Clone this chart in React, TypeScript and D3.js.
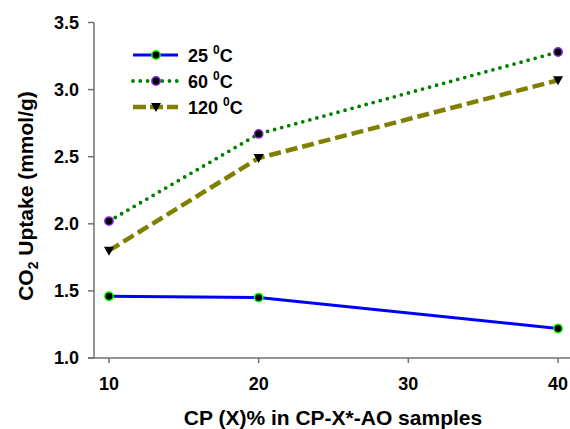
import React from "react";
import * as d3 from "d3";

const xValues = [10, 20, 40];
const uptake25 = [1.46, 1.45, 1.22];
const uptake60 = [2.02, 2.67, 3.28];
const uptake120 = [1.80, 2.49, 3.07];
const xTicks = [10, 20, 30, 40];
const yTicks = [1.0, 1.5, 2.0, 2.5, 3.0, 3.5];
const seriesLabels = ["25 ", "60 ", "120 "];

const W = 570;
const H = 429;

export default function App() {
  const x = d3.scaleLinear().domain([9, 40.8]).range([94, 570]);
  const y = d3.scaleLinear().domain([1, 3.5]).range([358, 22.5]);
  const line = d3
    .line<[number, number]>()
    .x((d) => x(d[0]))
    .y((d) => y(d[1]));
  const pts = (arr: number[]) => xValues.map((v, i) => [v, arr[i]] as [number, number]);

  const axisColor = "#707070";
  const font = "'Liberation Sans', Arial, sans-serif";

  const series = [
    { data: uptake25, color: "#0000ff", width: 3, dash: undefined as string | undefined, cap: "butt", marker: "circle", mstroke: "#00ff00" },
    { data: uptake60, color: "#008000", width: 3.8, dash: "0 7.3", cap: "round", marker: "circle", mstroke: "#8a2be2" },
    { data: uptake120, color: "#808000", width: 4.5, dash: "12 5", cap: "butt", marker: "tri", mstroke: "#000" },
  ];

  const marker = (s: typeof series[number], cx: number, cy: number, key: string) =>
    s.marker === "circle" ? (
      <circle key={key} cx={cx} cy={cy} r={4.2} fill="#000" stroke={s.mstroke} strokeWidth={1.5} />
    ) : (
      <path key={key} d={`M${cx - 5},${cy - 4} L${cx + 5},${cy - 4} L${cx},${cy + 5} Z`} fill="#000" />
    );

  const legendY = [55, 81, 107];

  return (
    <svg width={W} height={H} style={{ position: "absolute", left: 0, top: 0, background: "#fff" }} fontFamily={font}>
      {/* axes */}
      <line x1={94} x2={94} y1={22.5} y2={358} stroke={axisColor} strokeWidth={1.5} />
      <line x1={88} x2={570} y1={358} y2={358} stroke={axisColor} strokeWidth={1.5} />
      {yTicks.map((t) => (
        <g key={"y" + t}>
          <line x1={88} x2={94} y1={y(t)} y2={y(t)} stroke={axisColor} strokeWidth={1.5} />
          <text x={79} y={y(t)} dy="0.35em" textAnchor="end" fontSize={18} fontWeight="bold">
            {t.toFixed(1)}
          </text>
        </g>
      ))}
      {xTicks.map((t) => (
        <g key={"x" + t}>
          <line x1={x(t)} x2={x(t)} y1={358} y2={363} stroke={axisColor} strokeWidth={1.5} />
          <text x={x(t)} y={384} dy="0.35em" textAnchor="middle" fontSize={18} fontWeight="bold">
            {t}
          </text>
        </g>
      ))}
      <text x={333} y={425} textAnchor="middle" fontSize={21} fontWeight="bold">
        CP (X)% in CP-X*-AO samples
      </text>
      <text transform={`translate(33,196) rotate(-90)`} textAnchor="middle" fontSize={21} fontWeight="bold">
        CO<tspan fontSize={14} dy={5}>2</tspan>
        <tspan dy={-5}> Uptake (mmol/g)</tspan>
      </text>

      {/* series */}
      {series.map((s, i) => (
        <path
          key={"l" + i}
          d={line(pts(s.data)) || ""}
          fill="none"
          stroke={s.color}
          strokeWidth={s.width}
          strokeDasharray={s.dash}
          strokeLinecap={s.cap as any}
        />
      ))}
      {series.map((s, i) => pts(s.data).map((p, j) => marker(s, x(p[0]), y(p[1]), `m${i}-${j}`)))}

      {/* legend */}
      {series.map((s, i) => (
        <g key={"lg" + i}>
          <line
            x1={133}
            x2={178}
            y1={legendY[i]}
            y2={legendY[i]}
            stroke={s.color}
            strokeWidth={s.width}
            strokeDasharray={i === 1 ? "0 7.3" : i === 2 ? "13 4" : undefined}
            strokeLinecap={s.cap as any}
          />
          {marker(s, 156, legendY[i], "lm" + i)}
          <text x={188} y={legendY[i]} dy="0.4em" fontSize={18} fontWeight="bold">
            {seriesLabels[i]}
            <tspan fontSize={12} dy={-8}>0</tspan>
            <tspan dy={8}>C</tspan>
          </text>
        </g>
      ))}
    </svg>
  );
}
